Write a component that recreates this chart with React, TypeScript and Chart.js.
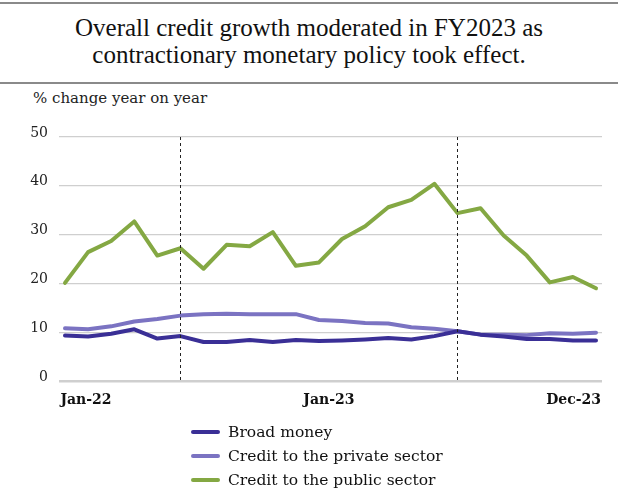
import React, { useEffect, useRef } from "react";
import { Chart, registerables } from "chart.js";

Chart.register(...registerables);

const months = [
  "Jan-22", "Feb-22", "Mar-22", "Apr-22", "May-22", "Jun-22", "Jul-22", "Aug-22", "Sep-22", "Oct-22", "Nov-22", "Dec-22",
  "Jan-23", "Feb-23", "Mar-23", "Apr-23", "May-23", "Jun-23", "Jul-23", "Aug-23", "Sep-23", "Oct-23", "Nov-23", "Dec-23",
];
const broadMoney = [9.3, 9.1, 9.7, 10.6, 8.7, 9.2, 8.0, 8.0, 8.4, 8.0, 8.4, 8.2, 8.3, 8.5, 8.8, 8.5, 9.2, 10.2, 9.5, 9.1, 8.6, 8.6, 8.3, 8.3];
const privateCredit = [10.8, 10.6, 11.2, 12.2, 12.7, 13.4, 13.7, 13.8, 13.7, 13.7, 13.7, 12.5, 12.3, 11.9, 11.8, 11.0, 10.7, 10.2, 9.5, 9.5, 9.4, 9.8, 9.7, 9.9];
const publicCredit = [20.1, 26.4, 28.7, 32.7, 25.7, 27.2, 23.0, 27.9, 27.6, 30.5, 23.6, 24.3, 29.1, 31.7, 35.6, 37.1, 40.4, 34.4, 35.4, 29.8, 25.7, 20.2, 21.3, 19.0];

const seriesNames = ["Broad money", "Credit to the private sector", "Credit to the public sector"];
const seriesColors = ["#3a2f96", "#7b73c2", "#84a843"];
const seriesValues = [broadMoney, privateCredit, publicCredit];

const yTicks = [0, 10, 20, 30, 40, 50];
const xTickLabels = ["Jan-22", "Jan-23", "Dec-23"];
const xTickPositions = [0.91, 11.43, 22.03];
const markerMonths = ["Jun-22", "Jun-23"];

const TITLE_FONT = "'Liberation Serif', serif";
const FONT = "'DejaVu Serif', serif";

const markerPlugin = {
  id: "markers",
  afterDatasetsDraw(chart: any) {
    const { ctx, chartArea, scales } = chart;
    ctx.save();
    ctx.strokeStyle = "#222";
    ctx.lineWidth = 1;
    ctx.setLineDash([3, 3]);
    markerMonths.forEach((m) => {
      const idx = months.indexOf(m);
      const x = Math.round(scales.x.getPixelForValue(idx)) + 0.5;
      ctx.beginPath();
      ctx.moveTo(x, chartArea.top);
      ctx.lineTo(x, chartArea.bottom);
      ctx.stroke();
    });
    ctx.restore();
  },
};

export default function App() {
  const canvasRef = useRef<HTMLCanvasElement | null>(null);

  useEffect(() => {
    document.body.style.margin = "0";
    const canvas = canvasRef.current;
    if (!canvas) return;
    const chart = new Chart(canvas, {
      type: "line",
      data: {
        datasets: seriesValues.map((vals, i) => ({
          label: seriesNames[i],
          data: vals.map((v, j) => ({ x: j, y: v })),
          borderColor: seriesColors[i],
          backgroundColor: seriesColors[i],
          borderWidth: 4,
          pointRadius: 0,
          tension: 0,
          borderJoinStyle: "round" as const,
          borderCapStyle: "round" as const,
        })),
      },
      options: {
        animation: false,
        responsive: false,
        maintainAspectRatio: false,
        layout: { padding: { top: 137, right: 16, bottom: 79, left: 0 } },
        plugins: {
          legend: { display: false },
          tooltip: { enabled: false },
          title: { display: false },
        },
        scales: {
          x: {
            type: "linear",
            min: -0.26,
            max: 23.26,
            afterBuildTicks: (scale: any) => {
              scale.ticks = xTickPositions.map((v) => ({ value: v }));
            },
            afterFit: (scale: any) => {
              scale.height = 30;
            },
            grid: { display: false, drawTicks: false },
            border: { display: false },
            ticks: {
              autoSkip: false,
              maxRotation: 0,
              padding: 11,
              color: "#111",
              font: { family: FONT, size: 14, weight: "bold" },
              callback: (value: any) => {
                const i = xTickPositions.indexOf(Number(value));
                return i >= 0 ? xTickLabels[i] : "";
              },
            },
          },
          y: {
            min: 0,
            max: 50,
            afterBuildTicks: (scale: any) => {
              scale.ticks = yTicks.map((v) => ({ value: v }));
            },
            afterFit: (scale: any) => {
              scale.width = 59;
            },
            grid: {
              drawTicks: false,
              color: "#cfcfcf",
              lineWidth: (c: any) => (c.tick && c.tick.value === 0 ? 2.5 : 1.3),
            },
            border: { display: false },
            ticks: {
              padding: 11,
              labelOffset: -4,
              color: "#222",
              font: { family: FONT, size: 14 },
            },
          },
        },
      },
      plugins: [markerPlugin],
    });
    return () => chart.destroy();
  }, []);

  return (
    <div style={{ position: "fixed", left: 0, top: 0, width: 618, height: 490, background: "#fff", fontFamily: FONT, color: "#111" }}>
      <div style={{ position: "absolute", left: 0, top: 2, width: 618, height: 2, background: "#8a8a8a" }} />
      <div style={{ position: "absolute", left: 0, top: 14, width: 618, textAlign: "center", fontSize: 25, lineHeight: "27px", fontFamily: TITLE_FONT }}>
        <div>Overall credit growth moderated in FY2023 as</div>
        <div>contractionary monetary policy took effect.</div>
      </div>
      <div style={{ position: "absolute", left: 0, top: 82, width: 618, height: 2, background: "#8a8a8a" }} />
      <div style={{ position: "absolute", left: 33, top: 88, fontSize: 15, lineHeight: "20px", color: "#222" }}>% change year on year</div>
      <canvas ref={canvasRef} width={618} height={490} style={{ position: "absolute", left: 0, top: 0, width: 618, height: 490 }} />
      <div style={{ position: "absolute", left: 191, top: 420 }}>
        {seriesNames.map((name, i) => (
          <div key={name} style={{ display: "flex", alignItems: "center", height: 24, fontSize: 15.5 }}>
            <span style={{ display: "inline-block", width: 29, height: 4, borderRadius: 2, background: seriesColors[i], marginRight: 8 }} />
            <span>{name}</span>
          </div>
        ))}
      </div>
    </div>
  );
}
